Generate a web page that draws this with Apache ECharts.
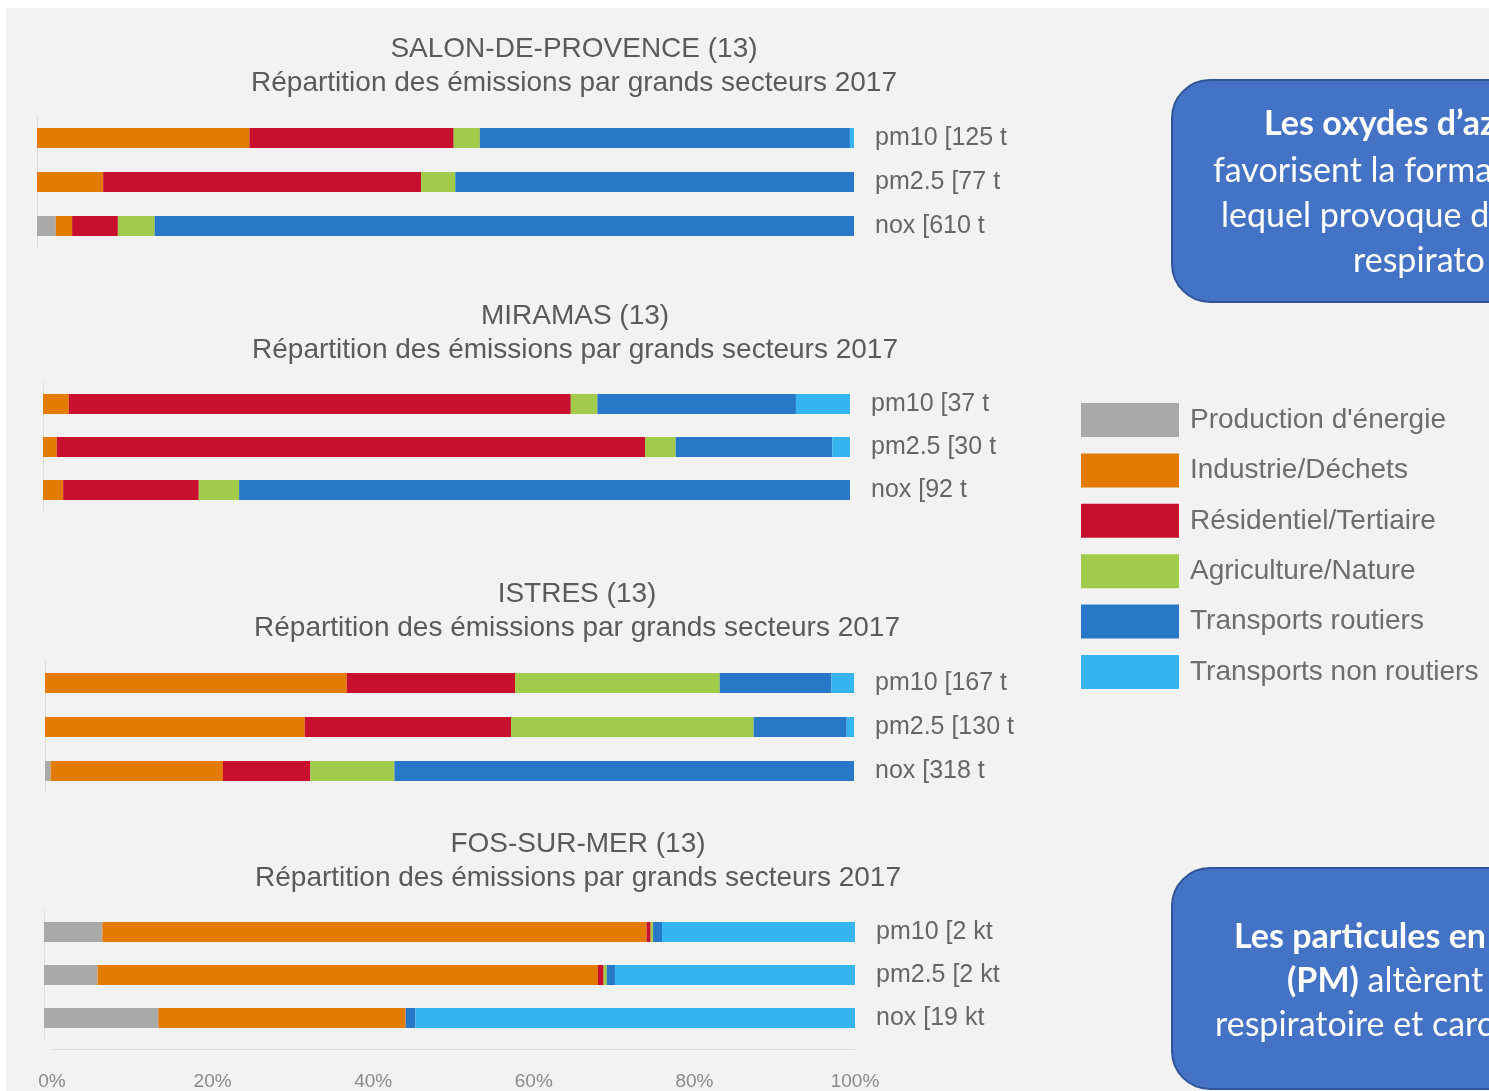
<!DOCTYPE html>
<html>
<head>
<meta charset="utf-8">
<script src="https://cdn.jsdelivr.net/npm/echarts@6/dist/echarts.min.js"></script>
<style>
  html, body { margin: 0; padding: 0; background: #ffffff; }
  #chart { width: 1489px; height: 1091px; }
</style>
</head>
<body>
<div id="chart"></div>
<script>
// ---- DATA (shares in %) ----
const sectors = ["Production d'énergie", 'Industrie/Déchets', 'Résidentiel/Tertiaire', 'Agriculture/Nature', 'Transports routiers', 'Transports non routiers'];
const sectorColors = ['#a9a9a9', '#e27b00', '#c8102e', '#a1cb48', '#2878c8', '#36b4f0'];

const cityTitles = ['SALON-DE-PROVENCE (13)', 'MIRAMAS (13)', 'ISTRES (13)', 'FOS-SUR-MER (13)'];
const subTitle = 'Répartition des émissions par grands secteurs 2017';

const salonLabels = ['pm10 [125 t', 'pm2.5 [77 t', 'nox [610 t'];
const salonPm10 = [0, 26.0, 25.0, 3.2, 45.3, 0.5];
const salonPm25 = [0, 8.1, 38.9, 4.2, 48.8, 0];
const salonNox  = [2.3, 2.0, 5.6, 4.5, 85.6, 0];

const miramasLabels = ['pm10 [37 t', 'pm2.5 [30 t', 'nox [92 t'];
const miramasPm10 = [0, 3.2, 62.2, 3.3, 24.6, 6.7];
const miramasPm25 = [0, 1.7, 72.9, 3.8, 19.4, 2.2];
const miramasNox  = [0, 2.5, 16.8, 5.0, 75.7, 0];

const istresLabels = ['pm10 [167 t', 'pm2.5 [130 t', 'nox [318 t'];
const istresPm10 = [0, 37.3, 20.8, 25.3, 13.8, 2.8];
const istresPm25 = [0, 32.1, 25.5, 30.0, 11.5, 0.9];
const istresNox  = [0.7, 21.3, 10.8, 10.4, 56.8, 0];

const fosLabels = ['pm10 [2 kt', 'pm2.5 [2 kt', 'nox [19 kt'];
const fosPm10 = [7.2, 67.1, 0.5, 0.3, 1.1, 23.8];
const fosPm25 = [6.6, 61.7, 0.7, 0.4, 1.0, 29.6];
const fosNox  = [14.1, 30.5, 0, 0, 1.2, 54.2];

const axisTicks = [0, 20, 40, 60, 80, 100];

// ---- LAYOUT ----
const cities = [
  { labels: salonLabels, rows: [salonPm10, salonPm25, salonNox] },
  { labels: miramasLabels, rows: [miramasPm10, miramasPm25, miramasNox] },
  { labels: istresLabels, rows: [istresPm10, istresPm25, istresNox] },
  { labels: fosLabels, rows: [fosPm10, fosPm25, fosNox] }
];
const grids = [
  { left: 37, top: 116, width: 817, height: 132 },
  { left: 43, top: 382.5, width: 807, height: 129 },
  { left: 45, top: 661, width: 809, height: 132 },
  { left: 44, top: 910.5, width: 811, height: 129 },
  { left: 52, top: 1000, width: 803, height: 50 }
];
const titleTops = [33, 300, 578, 828];
const titleCenters = [574, 575, 577, 578];

const FONT = "'Liberation Sans', Arial, sans-serif";
const BOXFONT = "Lato, 'Noto Sans', sans-serif";
const BOXSIZE = 34;

const xAxes = [], yAxes = [], series = [], titles = [];
cities.forEach((c, i) => {
  xAxes.push({ gridIndex: i, type: 'value', min: 0, max: 100, show: false });
  yAxes.push({
    gridIndex: i, type: 'category', data: c.labels, inverse: true, position: 'right',
    axisLine: { show: true, lineStyle: { color: '#dedede', width: 1 } },
    axisTick: { show: false },
    axisLabel: { margin: 21, color: '#666666', fontSize: 25, fontFamily: FONT, align: 'left' }
  });
  sectors.forEach((s, k) => {
    series.push({
      type: 'bar', name: s, stack: 'city' + i, xAxisIndex: i, yAxisIndex: i,
      barWidth: 20, itemStyle: { color: sectorColors[k] },
      data: c.rows.map(r => r[k]), animation: false
    });
  });
  titles.push({
    text: cityTitles[i], subtext: subTitle, left: titleCenters[i], top: titleTops[i], textAlign: 'center',
    itemGap: 2, padding: 0,
    textStyle: { fontSize: 28, fontWeight: 'normal', color: '#5a5a5a', fontFamily: FONT, lineHeight: 32 },
    subtextStyle: { fontSize: 28, color: '#5a5a5a', fontFamily: FONT, lineHeight: 32 }
  });
});
// bottom percentage axis
xAxes.push({
  gridIndex: 4, type: 'value', min: 0, max: 100, interval: 20,
  axisLine: { show: true, lineStyle: { color: '#dedede', width: 1 } },
  axisTick: { show: false }, splitLine: { show: false },
  axisLabel: { margin: 23, color: '#8a8a8a', fontSize: 19, fontFamily: FONT,
    formatter: v => axisTicks.indexOf(v) >= 0 ? v + '%' : '' }
});
yAxes.push({ gridIndex: 4, type: 'value', show: false });

const boxStyle = { fill: '#4472c4', stroke: '#2f5597', lineWidth: 2 };
const txt = (x, y, text, bold) => ({
  type: 'text', x: x, y: y, z: 20,
  style: { text: text, fill: '#ffffff', font: (bold ? 'bold ' : '') + BOXSIZE + 'px ' + BOXFONT,
    align: 'left', verticalAlign: 'middle',
    rich: { b: { fontWeight: 'bold', fontSize: BOXSIZE, fontFamily: BOXFONT, fill: '#ffffff' } } }
});

const option = {
  backgroundColor: '#ffffff',
  animation: false,
  color: sectorColors,
  title: titles,
  grid: grids,
  xAxis: xAxes,
  yAxis: yAxes,
  series: series,
  legend: {
    data: sectors, orient: 'vertical', left: 1081, top: 403, padding: 0,
    icon: 'rect', itemWidth: 98, itemHeight: 34, itemGap: 16.4,
    selectedMode: false,
    textStyle: { fontSize: 28, color: '#6d6d6d', fontFamily: FONT, padding: [0, 0, 0, 6] }
  },
  graphic: [
    { type: 'rect', z: -10, shape: { x: 6, y: 8, width: 1500, height: 1100 }, style: { fill: '#f2f2f2' } },
    { type: 'rect', z: 10, shape: { x: 1172, y: 80, width: 420, height: 222, r: 38 }, style: boxStyle },
    { type: 'rect', z: 10, shape: { x: 1172, y: 868, width: 420, height: 221, r: 38 }, style: boxStyle },
    txt(1264, 124, 'Les oxydes d’az', true),
    txt(1213, 171, 'favorisent la forma', false),
    txt(1221, 216, 'lequel provoque d', false),
    txt(1353, 261, 'respirato', false),
    txt(1234, 937, 'Les particules en', true),
    txt(1287, 981, '{b|(PM)} altèrent', false),
    txt(1215, 1025, 'respiratoire et carc', false)
  ]
};

const chart = echarts.init(document.getElementById('chart'), null, { renderer: 'canvas' });
chart.setOption(option);
</script>
</body>
</html>
